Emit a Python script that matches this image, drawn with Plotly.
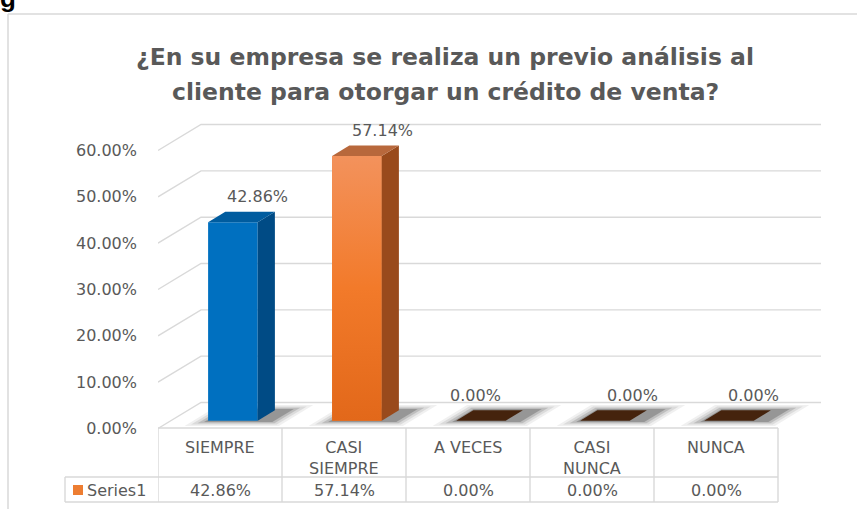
import plotly.graph_objects as go

# ---------------- data ----------------
categories = ["SIEMPRE", "CASI SIEMPRE", "A VECES", "CASI NUNCA", "NUNCA"]
category_labels = ["SIEMPRE", "CASI<br>SIEMPRE", "A VECES", "CASI<br>NUNCA", "NUNCA"]
values = [42.86, 57.14, 0.00, 0.00, 0.00]
y_ticks = [0, 10, 20, 30, 40, 50, 60]
series_name = "Series1"
title_lines = ["¿En su empresa se realiza un previo análisis al",
               "cliente para otorgar un crédito de venta?"]

# ---------------- styles ----------------
front_colors = ["#0070c0", "#ed7d31", "#45230d", "#45230d", "#45230d"]
side_colors = ["#004b85", "#994a1c", "#45230d", "#45230d", "#45230d"]
top_colors = ["#005c9f", "#b8683c", "#45230d", "#45230d", "#45230d"]
label_dx = [0.30, 0.31, 0.06, 0.33, 0.30]   # label nudges (category units)
TEXT = "#595959"
GRID = "#d9d9d9"
FONT = "DejaVu Sans"

# ---------------- geometry (pixels of the 857x509 canvas) ----------------
W, H = 857, 509
PLOT_LEFT = 158          # left wall front edge
CAT_PX = 124             # width of one category
PCT_PX = 4.633           # pixels per percent
ZERO_PX = 428.5          # front 0% line
DEPTH_X_PX, DEPTH_Y_PX = 43, 26

DX = DEPTH_X_PX / CAT_PX     # depth offset, category units
DY = DEPTH_Y_PX / PCT_PX     # depth offset, percent units
BAR_W = 0.4
D0, D1 = 0.3, 0.7            # bar depth span (fraction of floor depth)
n = len(categories)

x_range = [-0.5, -0.5 + (W - PLOT_LEFT) / CAT_PX]
y_range = [(ZERO_PX - H) / PCT_PX, ZERO_PX / PCT_PX]


def xp(px):
    return (px - PLOT_LEFT) / (W - PLOT_LEFT)


def yp(py):
    return 1 - py / H


fig = go.Figure()
shapes = []
annotations = []

# ---- walls / gridlines (left wall diagonals + back wall lines) ----
for v in y_ticks:
    path = (f"M {-0.5},{v} L {-0.5 + DX},{v + DY} L {n - 0.5 + DX},{v + DY}")
    shapes.append(dict(type="path", path=path, xref="x", yref="y",
                       line=dict(color=GRID, width=1.4), layer="below"))

# ---- floor shadows (soft, layered) ----
for i, v in enumerate(values):
    for k, op in zip([4, 3, 2, 1], [0.07, 0.10, 0.16, 0.26]):
        e = 0.035 * k
        dd = 0.05 * k
        xl = i - BAR_W / 2 - e + 0.02
        xr = i + BAR_W / 2 + e + 0.10
        da, db = max(D0 - dd, 0.02), min(D1 + dd, 0.98)
        path = (f"M {xl + da * DX},{da * DY} L {xr + da * DX},{da * DY} "
                f"L {xr + db * DX},{db * DY} L {xl + db * DX},{db * DY} Z")
        shapes.append(dict(type="path", path=path, xref="x", yref="y",
                           fillcolor=f"rgba(40,40,40,{op})",
                           line=dict(width=0), layer="below"))

# ---- front faces (bars) ----
fig.add_trace(go.Bar(
    x=[i + D0 * DX for i in range(n)], y=values, base=[D0 * DY] * n,
    width=BAR_W, marker=dict(color=front_colors, line=dict(width=0)),
    name=series_name, hoverinfo="skip"))

# gradient overlay for the orange front
for i, v in enumerate(values):
    if i == 1 and v > 0:
        xl, xr = i - BAR_W / 2 + D0 * DX, i + BAR_W / 2 + D0 * DX
        yb, yt = D0 * DY, v + D0 * DY
        fig.add_trace(go.Scatter(
            x=[xl, xr, xr, xl, xl], y=[yb, yb, yt, yt, yb], mode="lines",
            line=dict(width=0), fill="toself",
            fillgradient=dict(type="vertical", start=yb, stop=yt,
                              colorscale=[[0, "#e2681a"], [0.5, "#f27a2a"], [1, "#f3925c"]]),
            hoverinfo="skip"))

# ---- side and top faces ----
for i, v in enumerate(values):
    xl, xr = i - BAR_W / 2, i + BAR_W / 2
    if v > 0:
        sx = [xr + D0 * DX, xr + D1 * DX, xr + D1 * DX, xr + D0 * DX, xr + D0 * DX]
        sy = [D0 * DY, D1 * DY, v + D1 * DY, v + D0 * DY, D0 * DY]
        fig.add_trace(go.Scatter(x=sx, y=sy, mode="lines", line=dict(width=0),
                                 fill="toself", fillcolor=side_colors[i], hoverinfo="skip"))
    tx = [xl + D0 * DX, xr + D0 * DX, xr + D1 * DX, xl + D1 * DX, xl + D0 * DX]
    ty = [v + D0 * DY, v + D0 * DY, v + D1 * DY, v + D1 * DY, v + D0 * DY]
    fig.add_trace(go.Scatter(x=tx, y=ty, mode="lines", line=dict(width=0),
                             fill="toself", fillcolor=top_colors[i], hoverinfo="skip"))

# ---- data labels ----
for i, v in enumerate(values):
    annotations.append(dict(x=i + label_dx[i], y=v, xref="x", yref="y",
                            text=f"{v:.2f}%", showarrow=False, yshift=33,
                            font=dict(family=FONT, size=16, color=TEXT)))

# ---- data table ----
TOP, MID, BOT = 428, 477, 502
LEG_LEFT = 65
shapes.append(dict(type="line", xref="x", yref="paper", x0=-0.5, x1=n - 0.5,
                   y0=yp(TOP), y1=yp(TOP), line=dict(color=GRID, width=1.4)))
for yy in (MID, BOT):
    shapes.append(dict(type="line", xref="paper", yref="paper", x0=xp(LEG_LEFT),
                       x1=xp(PLOT_LEFT + n * CAT_PX), y0=yp(yy), y1=yp(yy),
                       line=dict(color=GRID, width=1.4)))
for b in range(n + 1):
    shapes.append(dict(type="line", xref="x", yref="paper", x0=b - 0.5, x1=b - 0.5,
                       y0=yp(TOP), y1=yp(BOT), line=dict(color=GRID, width=1.4)))
shapes.append(dict(type="line", xref="paper", yref="paper", x0=xp(LEG_LEFT), x1=xp(LEG_LEFT),
                   y0=yp(MID), y1=yp(BOT), line=dict(color=GRID, width=1.4)))
for i, lab in enumerate(category_labels):
    annotations.append(dict(x=i, y=yp(436), xref="x", yref="paper", text=lab,
                            showarrow=False, yanchor="top",
                            font=dict(family=FONT, size=16, color=TEXT)))
    annotations.append(dict(x=i, y=yp(490), xref="x", yref="paper", text=f"{values[i]:.2f}%",
                            showarrow=False, yanchor="middle",
                            font=dict(family=FONT, size=16, color=TEXT)))
# legend key
shapes.append(dict(type="rect", xref="paper", yref="paper", x0=xp(73), x1=xp(83),
                   y0=yp(495), y1=yp(485), fillcolor="#ed7d31", line=dict(width=0)))
annotations.append(dict(x=xp(85), y=yp(490), xref="paper", yref="paper", text=series_name,
                        showarrow=False, xanchor="left", yanchor="middle",
                        font=dict(family=FONT, size=16, color=TEXT)))

# ---- chart frame ----
shapes.append(dict(type="line", xref="paper", yref="paper", x0=xp(8), x1=xp(8),
                   y0=yp(14), y1=yp(H + 5), line=dict(color=GRID, width=1.5)))
shapes.append(dict(type="line", xref="paper", yref="paper", x0=xp(8), x1=xp(W + 5),
                   y0=yp(14), y1=yp(14), line=dict(color=GRID, width=1.5)))

# ---- title ----
for text, yy in zip(title_lines, [57, 92]):
    annotations.append(dict(x=xp(445), y=yp(yy), xref="paper", yref="paper", text=f"<b>{text}</b>",
                            showarrow=False, xanchor="center", yanchor="middle",
                            font=dict(family=FONT, size=23.5, color=TEXT)))

# cropped caption fragment at the very top-left (only its lower part shows)
annotations.append(dict(x=xp(8), y=yp(15), xref="paper", yref="paper", text="<b>g</b>",
                        showarrow=False, xanchor="center", yanchor="bottom",
                        font=dict(family="Liberation Sans", size=26, color="#000000")))

fig.update_layout(
    width=W, height=H,
    margin=dict(l=PLOT_LEFT, r=0, t=0, b=0, autoexpand=False),
    paper_bgcolor="white", plot_bgcolor="white",
    showlegend=False,
    xaxis=dict(range=x_range, visible=False, fixedrange=True),
    yaxis=dict(range=y_range, tickvals=y_ticks, ticktext=[f"{v:.2f}%" for v in y_ticks],
               showgrid=False, zeroline=False, showline=False, ticks="",
               ticklabelstandoff=20, automargin=False,
               tickfont=dict(family=FONT, size=16, color=TEXT), fixedrange=True),
    shapes=shapes, annotations=annotations,
)

fig.write_html("out.html", config={"displayModeBar": False},
               post_script="document.body.style.margin='0';document.body.style.overflow='hidden';")
